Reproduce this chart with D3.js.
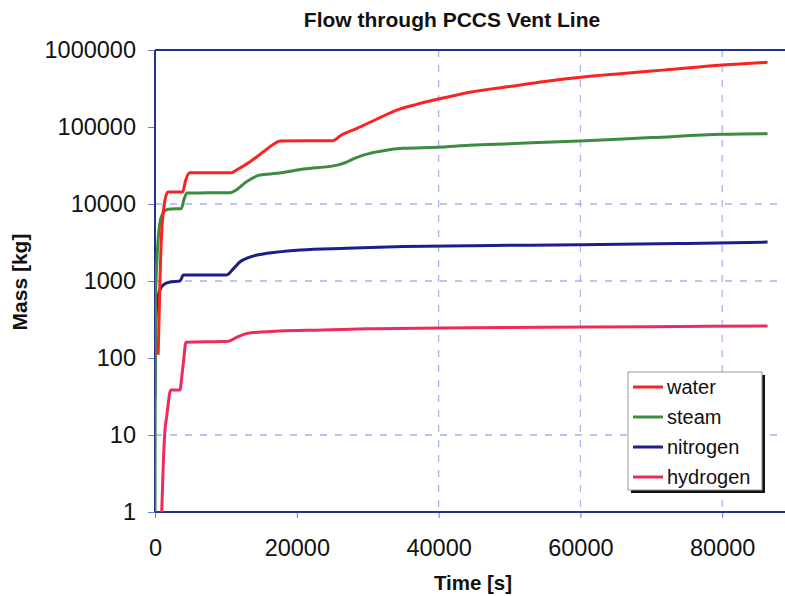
<!DOCTYPE html>
<html>
<head>
<meta charset="utf-8">
<script src="https://cdn.jsdelivr.net/npm/d3@7"></script>
<style>
  html, body { margin: 0; padding: 0; background: #fff; }
  svg { display: block; font-family: "Liberation Sans", Arial, sans-serif; }
</style>
</head>
<body>
<svg id="chart" width="785" height="596"></svg>
<script>
// ---- Data ----
const seriesNames = ["water", "steam", "nitrogen", "hydrogen"];

const waterTime = [450, 700, 920, 1130, 1400, 1830, 3900, 4300, 4900, 10800, 11500, 13400, 15300, 16700, 17600, 25100, 26300, 28500, 31300, 34100, 36900, 39800, 42600, 44400, 50000, 55000, 60700, 66000, 72000, 80000, 86400];
const waterMass = [110, 1000, 4000, 7200, 11200, 14300, 14300, 20000, 25500, 25500, 27700, 35500, 47700, 59600, 65800, 66500, 78700, 96200, 127000, 166000, 197000, 229000, 261000, 282000, 335000, 390000, 450000, 495000, 552000, 638000, 692000];

const steamTime = [0, 30, 80, 280, 700, 1100, 1600, 2200, 3700, 4100, 4500, 10600, 11300, 12900, 14800, 17200, 21000, 25700, 26600, 28500, 30300, 32200, 35000, 39800, 44400, 50000, 55000, 60700, 70000, 80000, 86400];
const steamMass = [1, 30, 560, 1860, 5800, 7500, 8400, 8600, 8700, 11500, 13900, 14000, 14900, 19500, 23800, 25000, 28500, 32000, 33800, 40400, 45500, 49200, 52800, 54500, 57800, 60600, 63200, 66400, 72800, 80300, 81800];

const nitrogenTime = [0, 50, 150, 300, 470, 1170, 2120, 3530, 4000, 10100, 11100, 12000, 12900, 14400, 15800, 20500, 27000, 35000, 45000, 60000, 75000, 86400];
const nitrogenMass = [30, 150, 350, 530, 660, 890, 970, 1000, 1200, 1200, 1460, 1780, 1970, 2180, 2290, 2530, 2660, 2800, 2880, 2950, 3080, 3200];

const hydrogenTime = [950, 1170, 1410, 1650, 2220, 3530, 3800, 4000, 4370, 10340, 11500, 13000, 15000, 17600, 23700, 30000, 40000, 55000, 70000, 86400];
const hydrogenMass = [1, 4.3, 11.6, 17.3, 38.4, 38.4, 60, 86, 160, 165, 185, 209, 218, 224, 231, 240, 245, 250, 255, 261];

const xTicks = [0, 20000, 40000, 60000, 80000];
const yTicks = [1, 10, 100, 1000, 10000, 100000, 1000000];
const xGrid = [40000, 60000, 80000];
const yGrid = [10, 1000, 10000];

const colors = {
  water: "#fa2222",
  steam: "#3d8b40",
  nitrogen: "#1c1f8a",
  hydrogen: "#ee2a5c"
};

// ---- Layout ----
const svg = d3.select("#chart");
const W = 785, H = 596;
const plotLeft = 155, plotTop = 50, plotBottom = 512;
const x = d3.scaleLinear().domain([0, 100000]).range([plotLeft, 864]);
const y = d3.scaleLog().domain([1, 1000000]).range([plotBottom, plotTop]);
const axisColor = "#27308f";

// clip
svg.append("defs").append("clipPath").attr("id", "plotclip")
  .append("rect").attr("x", plotLeft).attr("y", plotTop - 2).attr("width", W - plotLeft).attr("height", plotBottom - plotTop + 4);

// gridlines
const grid = svg.append("g");
grid.selectAll("line.h").data(yGrid).join("line")
  .attr("x1", plotLeft).attr("x2", W)
  .attr("y1", d => y(d)).attr("y2", d => y(d))
  .attr("stroke", "#a8b4f0").attr("stroke-width", 1.3).attr("stroke-dasharray", "7,8");
grid.selectAll("line.v").data(xGrid).join("line")
  .attr("x1", d => x(d)).attr("x2", d => x(d))
  .attr("y1", plotTop).attr("y2", plotBottom)
  .attr("stroke", "#a8b4f0").attr("stroke-width", 1.3).attr("stroke-dasharray", "7,8");

// axes
const yAxis = d3.axisLeft(y).tickValues(yTicks).tickFormat(d3.format("d")).tickSize(7).tickPadding(12);
const gy = svg.append("g").attr("transform", `translate(${plotLeft},0)`).call(yAxis);
gy.select(".domain").remove();
gy.selectAll(".tick line").attr("stroke", "#6a78d8").attr("stroke-width", 1);
gy.selectAll(".tick text").attr("font-size", 23.5).attr("fill", "#111")
  .attr("font-family", "'Liberation Sans', Arial, sans-serif");

const xAxis = d3.axisBottom(x).tickValues(xTicks).tickFormat(d3.format("d")).tickSize(6).tickPadding(21);
const gx = svg.append("g").attr("transform", `translate(0,${plotBottom})`).call(xAxis);
gx.select(".domain").remove();
gx.selectAll(".tick line").attr("stroke", "#6a78d8").attr("stroke-width", 1);
gx.selectAll(".tick text").attr("font-size", 23.5).attr("fill", "#111")
  .attr("font-family", "'Liberation Sans', Arial, sans-serif");

// frame lines
svg.append("line").attr("x1", plotLeft).attr("x2", plotLeft).attr("y1", plotTop).attr("y2", plotBottom)
  .attr("stroke", axisColor).attr("stroke-width", 2);
svg.append("line").attr("x1", plotLeft).attr("x2", W).attr("y1", plotTop).attr("y2", plotTop)
  .attr("stroke", axisColor).attr("stroke-width", 2);
svg.append("line").attr("x1", plotLeft).attr("x2", W).attr("y1", plotBottom).attr("y2", plotBottom)
  .attr("stroke", axisColor).attr("stroke-width", 2);

// series
const series = [
  { name: "water", t: waterTime, m: waterMass },
  { name: "steam", t: steamTime, m: steamMass },
  { name: "nitrogen", t: nitrogenTime, m: nitrogenMass },
  { name: "hydrogen", t: hydrogenTime, m: hydrogenMass }
];
const line = d3.line().x(d => x(d[0])).y(d => y(d[1])).curve(d3.curveMonotoneX);
const gLines = svg.append("g").attr("clip-path", "url(#plotclip)");
[...series].reverse().forEach(s => {
  gLines.append("path")
    .datum(s.t.map((t, i) => [t, s.m[i]]))
    .attr("d", line)
    .attr("fill", "none")
    .attr("stroke", colors[s.name])
    .attr("stroke-width", 3)
    .attr("stroke-linejoin", "round");
});

// title and axis labels
svg.append("text").attr("x", 452).attr("y", 27).attr("text-anchor", "middle")
  .attr("font-size", 21).attr("font-weight", "bold").attr("fill", "#111")
  .text("Flow through PCCS Vent Line");
svg.append("text").attr("x", 473).attr("y", 590).attr("text-anchor", "middle")
  .attr("font-size", 20.5).attr("font-weight", "bold").attr("fill", "#111")
  .text("Time [s]");
svg.append("text").attr("transform", "translate(27,282) rotate(-90)").attr("text-anchor", "middle")
  .attr("font-size", 21).attr("font-weight", "bold").attr("fill", "#111")
  .text("Mass [kg]");

// legend
const lg = svg.append("g");
lg.append("rect").attr("x", 631).attr("y", 375).attr("width", 134).attr("height", 118).attr("fill", "#111");
lg.append("rect").attr("x", 628).attr("y", 372).attr("width", 134).attr("height", 118)
  .attr("fill", "#fff").attr("stroke", "#999").attr("stroke-width", 1);
seriesNames.forEach((n, i) => {
  const cy = 387 + i * 30;
  lg.append("line").attr("x1", 633).attr("x2", 663).attr("y1", cy).attr("y2", cy)
    .attr("stroke", colors[n]).attr("stroke-width", 3);
  lg.append("text").attr("x", 667).attr("y", cy).attr("dy", "0.35em")
    .attr("font-size", 20).attr("fill", "#111").text(n);
});
</script>
</body>
</html>
